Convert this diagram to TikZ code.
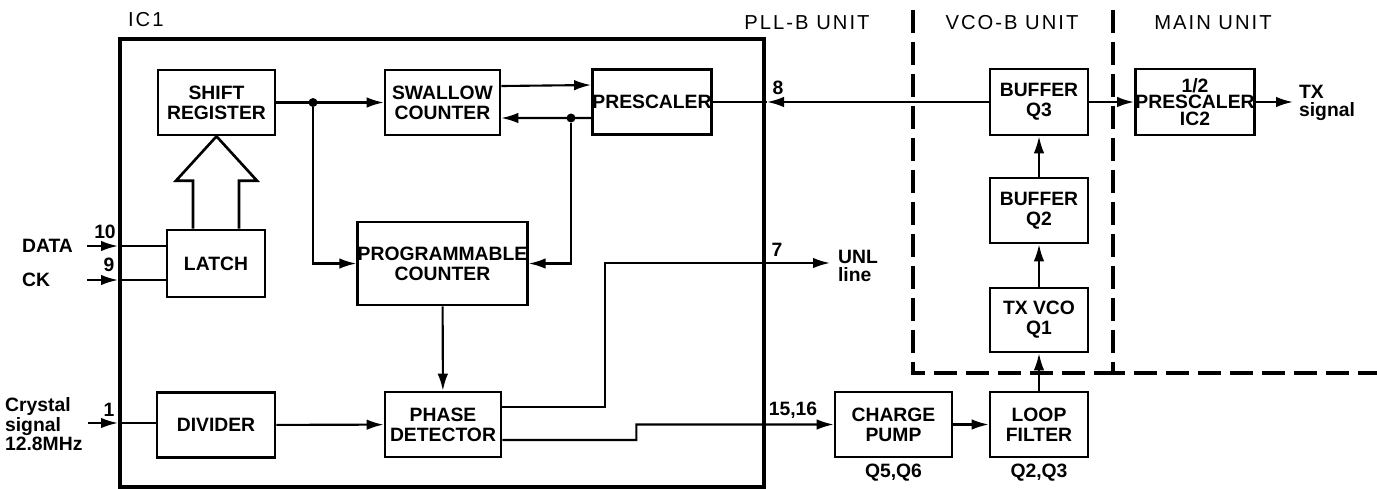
\documentclass[tikz,border=0pt]{standalone}
\usepackage{fontspec}
\setmainfont{Liberation Sans}
\newfontfamily\unitfont[LetterSpace=10]{Liberation Sans}
\usetikzlibrary{arrows.meta,calc}

\tikzstyle{every node}=[font={\fontsize{11}{11.5}\selectfont\bfseries}, inner sep=1pt, align=center]
\tikzstyle{block}=[draw, line width=1.5pt, minimum width=2.34cm, minimum height=1.3cm]
\tikzstyle{narrow}=[block, minimum width=1.96cm]
\tikzstyle{wire}=[line width=1.2pt]
\tikzstyle{sig}=[wire, -{Latex[length=3.4mm,width=2.1mm]}]
\tikzstyle{icframe}=[draw, line width=2.4pt, minimum width=12.88cm, minimum height=8.96cm]
\tikzstyle{unitline}=[line width=2.4pt, dash pattern=on 0.46cm off 0.18cm]
\tikzstyle{unitlabel}=[font={\fontsize{11.5}{12}\selectfont\unitfont}]
\tikzstyle{dot}=[circle, fill, inner sep=0pt, minimum size=1.8mm]

\begin{document}
\begin{tikzpicture}[x=0.02cm, y=-0.02cm]
    \useasboundingbox (0,0) rectangle (1377,488);

    % IC1 frame and unit borders
    \node [icframe] (ic1) at (442,263) {};
    \node [unitlabel, anchor=west] (ic1lbl) at (126,20) {IC1};
    \draw [unitline] (913,10) -- (913,373) -- (1113,373);
    \draw [unitline] (1113,10) -- (1113,373) -- (1377,373);
    \node [unitlabel] (pllb) at (807,23) {PLL-B UNIT};
    \node [unitlabel] (vcob) at (1012,23) {VCO-B UNIT};
    \node [unitlabel] (mainu) at (1213,23) {MAIN UNIT};

    % blocks inside IC1
    \node [block] (shiftreg) at (216.5,102.5) {SHIFT\\REGISTER};
    \node [block, minimum width=2.3cm] (swallow) at (442.5,102.5) {SWALLOW\\COUNTER};
    \node [block, minimum width=2.36cm, inner sep=0pt] (presc) at (652,102) {PRESCALER};
    \node [narrow, minimum height=1.34cm] (latch) at (216,263.5) {LATCH};
    \node [block, minimum width=3.38cm, minimum height=1.66cm, inner sep=0pt] (progc) at (442.5,263.5) {PROGRAMMABLE\\COUNTER};
    \node [block, minimum width=2.36cm] (divider) at (216,425) {DIVIDER};
    \node [block, minimum width=2.32cm] (phdet) at (443,424.5) {PHASE\\DETECTOR};

    % blocks outside IC1
    \node [block] (cpump) at (893.5,424.5) {CHARGE\\PUMP};
    \node [narrow] (loopf) at (1039,424.5) {LOOP\\FILTER};
    \node [narrow, minimum height=1.28cm] (txvco) at (1039,320) {TX VCO\\Q1};
    \node [narrow] (buf2) at (1039,210.5) {BUFFER\\Q2};
    \node [narrow, minimum height=1.32cm] (buf3) at (1039,102) {BUFFER\\Q3};
    \node [block, minimum width=2.32cm, minimum height=1.32cm, inner sep=0pt,
           font={\fontsize{11}{9.5}\selectfont\bfseries}] (presc2) at (1195,102) {1/2\\PRESCALER\\IC2};
    \node (cpq) at (893.5,473) {Q5,Q6};
    \node (lfq) at (1039,473) {Q2,Q3};

    % pins and outer signals
    \coordinate (din) at (87,246);
    \coordinate (p10) at (118,246);
    \coordinate (ckin) at (87,280);
    \coordinate (p9) at (118,280);
    \coordinate (xin) at (88,423);
    \coordinate (p1) at (118,423);
    \coordinate (p8) at (767,102);
    \coordinate (unl) at (830,263);
    \coordinate (tx) at (1293,102);
    \node [anchor=west] (datalbl) at (20,246) {DATA};
    \node [anchor=west] (cklbl) at (20,280) {CK};
    \node [anchor=west, align=left, font={\fontsize{11}{10}\selectfont\bfseries}] (xlbl) at (3,424) {Crystal\\signal\\12.8MHz};
    \node [anchor=west, align=left, font={\fontsize{11}{10}\selectfont\bfseries}] (unllbl) at (836,266) {UNL\\line};
    \node [anchor=west, align=left, font={\fontsize{11}{10}\selectfont\bfseries}] (txlbl) at (1297,103) {TX\\signal};
    \node (pin10) at (105,232) {10};
    \node (pin9) at (109,265) {9};
    \node (pin1) at (109,410) {1};
    \node (pin8) at (778,88) {8};
    \node (pin7) at (777,250) {7};
    \node (pin15) at (793,410) {15,16};

    % data bus from latch
    \draw [line width=1.5pt] ($(latch.north)+(-23,0)$) -- ++(0,-48) -- ++(-17,0) -- (shiftreg.south)
        -- ($(latch.north)+(41,-48)$) -- ++(-18,0) -- ($(latch.north)+(23,0)$);

    % connections
    \draw [sig] (din) -- (p10);
    \draw [wire] (p10) -- (latch.west |- p10);
    \draw [sig] (ckin) -- (p9);
    \draw [wire] (p9) -- (latch.west |- p9);
    \draw [sig] (xin) -- (p1);
    \draw [wire] (p1) -- (divider.west |- p1);
    \node [dot] (j1) at (313,102.5) {};
    \draw [sig] (shiftreg) -- (swallow);
    \draw [sig] (j1) |- (progc.west);
    \draw [sig] ([yshift=3.3mm]swallow.east) -- ([yshift=3.4mm]presc.west);
    \draw [sig] ([yshift=-3.2mm]presc.west) -- ([yshift=-3.1mm]swallow.east);
    \node [dot] (j2) at (571,118) {};
    \draw [sig] (j2) |- (progc.east);
    \draw [sig] (progc) -- (phdet);
    \draw [sig] (divider) -- (phdet);
    \draw [sig] ([yshift=3.5mm]phdet.east) -- ++(103,0) |- (unl);
    \draw [sig] ([yshift=-3.1mm]phdet.east) -| ++(134,-15.5) -- (cpump.west);
    \draw [sig] (cpump) -- (loopf);
    \draw [sig] (loopf) -- (txvco);
    \draw [sig] (txvco) -- (buf2);
    \draw [sig] (buf2) -- (buf3);
    \draw [sig] (buf3.west) -- (p8);
    \draw [wire] (p8) -- (presc.east);
    \draw [sig] (buf3) -- (presc2);
    \draw [sig] (presc2) -- (tx);
\end{tikzpicture}
\end{document}
